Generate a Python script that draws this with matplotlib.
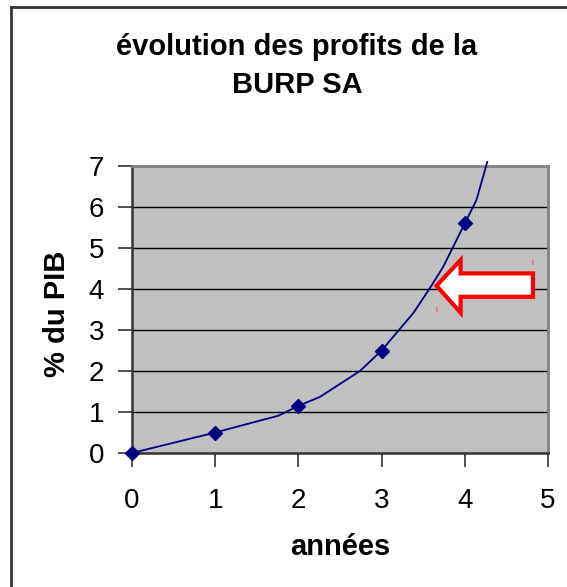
import matplotlib
matplotlib.use("Agg")
import matplotlib.pyplot as plt
from matplotlib.lines import Line2D
from matplotlib.patches import Polygon

plt.rcParams['font.family'] = ['Liberation Sans', 'DejaVu Sans']

# data points (markers)
years = [0, 1, 2, 3, 4]
pib = [0, 0.5, 1.15, 2.5, 5.6]

# curve drawn by the spreadsheet
curve_x = [0, 0.48, 1, 1.76, 2, 2.26, 2.74, 3, 3.38, 3.58, 3.74, 4, 4.14, 4.27]
curve_y = [0, 0.24, 0.5, 0.91, 1.15, 1.37, 2.0, 2.5, 3.41, 4.02, 4.54, 5.6, 6.17, 7.1]

x_ticks = [0, 1, 2, 3, 4, 5]
y_ticks = [0, 1, 2, 3, 4, 5, 6, 7]

W, H = 567, 587
fig = plt.figure(figsize=(W / 100, H / 100), dpi=100)
ax = fig.add_axes([132 / W, 1 - 453 / H, (548 - 132) / W, (453 - 166) / H])
ax.set_facecolor('#c0c0c0')
ax.set_xlim(0, 5)
ax.set_ylim(0, 7)

for y in y_ticks[1:-1]:
    ax.axhline(y, color='black', lw=1, zorder=1)

ax.plot(curve_x, curve_y, color='#000080', lw=1.3, zorder=3, clip_on=False)
ax.plot(years, pib, ls='none', marker='D', ms=7.5, color='#000080', zorder=4, clip_on=False)

# red outlined arrow
arrow = [(3.66, 4.08), (3.95, 4.71), (3.95, 4.38), (4.82, 4.38),
         (4.82, 3.81), (3.95, 3.81), (3.95, 3.42)]
ax.add_patch(Polygon(arrow, closed=True, facecolor='white', edgecolor='#ff0000', lw=3, zorder=5))
ax.plot([4.82, 4.82], [4.62, 4.69], color='#f07070', lw=1.2, zorder=5)
ax.plot([3.67, 3.67], [3.47, 3.54], color='#f07070', lw=1.2, zorder=5)

ax.set_xticks(x_ticks)
ax.set_yticks(y_ticks)
ax.tick_params(axis='x', length=10, width=1.2, color='#333333', pad=15, labelsize=20)
ax.tick_params(axis='y', length=10, width=1.2, color='#333333', pad=10, labelsize=20)

for s in ['left', 'bottom']:
    ax.spines[s].set_color('#333333')
    ax.spines[s].set_linewidth(1.8)
for s in ['top', 'right']:
    ax.spines[s].set_color('#808080')
    ax.spines[s].set_linewidth(2)

fig.text(340 / W, 1 - 555 / H, 'années', ha='center', va='baseline',
         fontsize=21, fontweight='bold')
fig.text(65 / W, 1 - 314 / H, '% du PIB', ha='center', va='baseline', rotation=90,
         rotation_mode='anchor', fontsize=21, fontweight='bold')

fig.text(297 / W, 1 - 66 / H, 'évolution des profits de la\nBURP SA', ha='center', va='center',
         fontsize=21, fontweight='bold', linespacing=1.42)

# chart frame (only left and top edges show)
fig.add_artist(Line2D([11 / W, 11 / W], [0, 1 - 7 / H], color='#333333', lw=2))
fig.add_artist(Line2D([11 / W, 1], [1 - 7 / H, 1 - 7 / H], color='#333333', lw=2))

fig.savefig('out.png', dpi=100)
